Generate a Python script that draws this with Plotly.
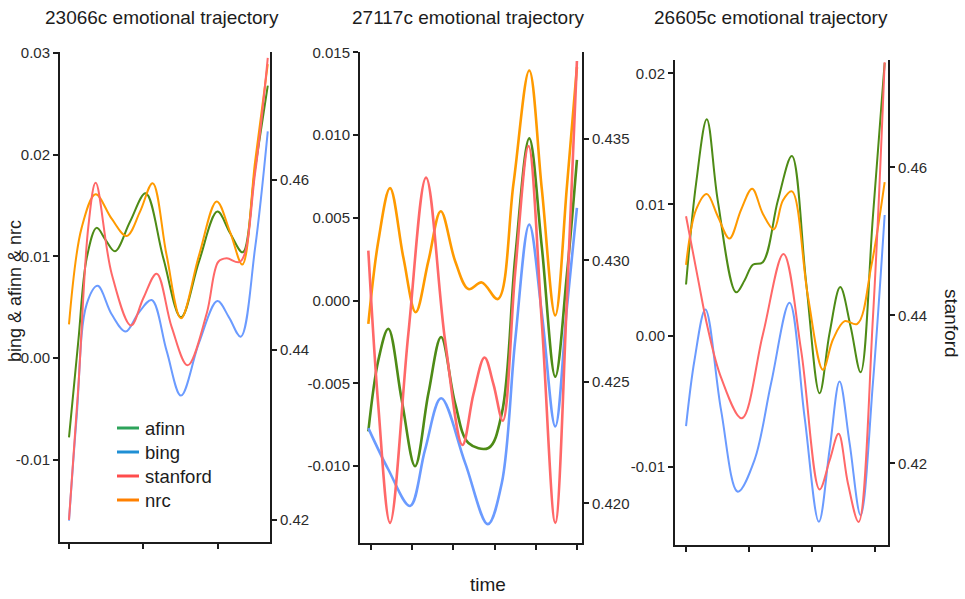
import plotly.graph_objects as go

W, H = 965, 599

# ---- 23066c -------------------------------------------------------------
p1_afinn_t = [0, 0.126, 0.238, 0.372, 0.494, 0.619, 0.821, 1.032, 1.27, 1.507, 1.75, 1.997, 2.167, 2.338, 2.504, 2.675]
p1_afinn = [-0.0078, 0.0017, 0.0098, 0.0128, 0.0116, 0.0105, 0.0134, 0.0162, 0.0098, 0.0040, 0.0095, 0.0144, 0.0123, 0.0104, 0.0186, 0.0268]
p1_bing_t = [0, 0.103, 0.238, 0.386, 0.574, 0.763, 0.933, 1.113, 1.314, 1.507, 1.75, 1.997, 2.153, 2.311, 2.504, 2.675]
p1_bing = [-0.0160, -0.0058, 0.0053, 0.0071, 0.0043, 0.0026, 0.0044, 0.0057, 0.0007, -0.0037, 0.0015, 0.0056, 0.0040, 0.0021, 0.0108, 0.0223]
p1_stanford_t = [0, 0.126, 0.260, 0.359, 0.574, 0.834, 1.0, 1.180, 1.382, 1.597, 1.853, 2.010, 2.122, 2.302, 2.504, 2.675]
p1_stanford = [0.4200, 0.4357, 0.4545, 0.4597, 0.4490, 0.4429, 0.4461, 0.4490, 0.4427, 0.4382, 0.4443, 0.4504, 0.4508, 0.4504, 0.4608, 0.4744]
p1_nrc_t = [0, 0.170, 0.359, 0.574, 0.776, 0.956, 1.126, 1.314, 1.507, 1.75, 1.988, 2.167, 2.333, 2.504, 2.675]
p1_nrc = [0.0033, 0.0128, 0.0161, 0.0137, 0.0120, 0.0144, 0.0172, 0.0101, 0.0039, 0.0101, 0.0154, 0.0124, 0.0092, 0.0193, 0.0289]

# ---- 27117c -------------------------------------------------------------
p2_afinn_t = [-0.065, 0.178, 0.421, 0.746, 1.070, 1.394, 1.702, 2.042, 2.366, 2.853, 3.177, 3.501, 3.842, 4.149, 4.474, 4.757, 5.0]
p2_afinn = [-0.0079, -0.0036, -0.0017, -0.0060, -0.0100, -0.0056, -0.0022, -0.0062, -0.0086, -0.0089, -0.0068, 0.0026, 0.0098, 0.0032, -0.0046, 0.0016, 0.0085]
p2_bing_t = [-0.065, 0.421, 0.948, 1.313, 1.702, 2.285, 2.837, 3.177, 3.501, 3.842, 4.149, 4.474, 4.757, 5.0]
p2_bing = [-0.0077, -0.0102, -0.0124, -0.0090, -0.0059, -0.0098, -0.0135, -0.0110, -0.0024, 0.0046, -0.0008, -0.0076, -0.0004, 0.0056]
p2_stanford_t = [-0.065, 0.178, 0.462, 0.908, 1.337, 1.799, 2.221, 2.488, 2.756, 2.974, 3.201, 3.501, 3.825, 4.149, 4.474, 4.757, 5.0]
p2_stanford = [0.4304, 0.4240, 0.4192, 0.4270, 0.4334, 0.4267, 0.4224, 0.4245, 0.4260, 0.4249, 0.4234, 0.4295, 0.4347, 0.4274, 0.4192, 0.4284, 0.4382]
p2_nrc_t = [-0.065, 0.178, 0.462, 0.786, 1.086, 1.394, 1.694, 2.042, 2.366, 2.691, 3.080, 3.461, 3.842, 4.149, 4.474, 4.757, 5.0]
p2_nrc = [-0.0014, 0.0036, 0.0068, 0.0026, -0.0007, 0.0024, 0.0054, 0.0024, 0.0007, 0.0011, 0.0001, 0.0071, 0.0139, 0.0067, -0.0009, 0.0069, 0.0141]

# ---- 26605c -------------------------------------------------------------
p3_afinn_t = [0, 0.159, 0.329, 0.503, 0.794, 0.927, 1.059, 1.217, 1.456, 1.678, 1.905, 2.117, 2.276, 2.445, 2.609, 2.768, 2.963, 3.149]
p3_afinn = [0.0039, 0.0116, 0.0165, 0.0103, 0.0033, 0.0042, 0.0054, 0.0056, 0.0103, 0.0137, 0.0040, -0.0044, 0.0002, 0.0037, 0.0007, -0.0028, 0.0091, 0.0208]
p3_bing_t = [0, 0.133, 0.307, 0.556, 0.821, 1.085, 1.350, 1.641, 1.879, 2.106, 2.276, 2.434, 2.593, 2.768, 2.963, 3.149]
p3_bing = [-0.0069, -0.0019, 0.0020, -0.0057, -0.0119, -0.0095, -0.0036, 0.0025, -0.0062, -0.0142, -0.0087, -0.0035, -0.0082, -0.0137, -0.0036, 0.0092]
p3_stanford_t = [0, 0.186, 0.344, 0.556, 0.884, 1.217, 1.545, 1.826, 2.117, 2.276, 2.419, 2.567, 2.736, 2.963, 3.149]
p3_stanford = [0.4534, 0.4451, 0.4383, 0.4316, 0.4261, 0.4374, 0.4483, 0.4352, 0.4165, 0.4204, 0.4240, 0.4173, 0.4121, 0.4397, 0.4742]
p3_nrc_t = [0, 0.159, 0.329, 0.503, 0.688, 0.873, 1.048, 1.217, 1.392, 1.535, 1.678, 1.932, 2.170, 2.329, 2.514, 2.715, 2.937, 3.149]
p3_nrc = [0.0054, 0.0096, 0.0108, 0.0091, 0.0074, 0.0096, 0.0112, 0.0093, 0.0081, 0.0103, 0.0110, 0.0030, -0.0026, -0.0003, 0.0011, 0.0009, 0.0053, 0.0117]

titles = ["23066c emotional trajectory", "27117c emotional trajectory", "26605c emotional trajectory"]
series_names = ["afinn", "bing", "stanford", "nrc"]

p1_left_ticks = [0.03, 0.02, 0.01, 0.00, -0.01]
p1_left_text = ["0.03", "0.02", "0.01", "0.00", "-0.01"]
p1_right_ticks = [0.46, 0.44, 0.42]
p1_right_text = ["0.46", "0.44", "0.42"]
p2_left_ticks = [0.015, 0.010, 0.005, 0.000, -0.005, -0.010]
p2_left_text = ["0.015", "0.010", "0.005", "0.000", "-0.005", "-0.010"]
p2_right_ticks = [0.435, 0.430, 0.425, 0.420]
p2_right_text = ["0.435", "0.430", "0.425", "0.420"]
p3_left_ticks = [0.02, 0.01, 0.00, -0.01]
p3_left_text = ["0.02", "0.01", "0.00", "-0.01"]
p3_right_ticks = [0.46, 0.44, 0.42]
p3_right_text = ["0.46", "0.44", "0.42"]
p1_time_ticks = [0, 1, 2]
p2_time_ticks = [0, 1, 2, 3, 4, 5]
p3_time_ticks = [0, 1, 2, 3]

# ---- styling ------------------------------------------------------------
FONT = "Liberation Sans, Arial, Helvetica, sans-serif"
INK = "#1c1c1c"
line_colors = {"afinn": "#4e8b16", "bing": "#6b9bff", "stanford": "#ff6868", "nrc": "#ff9a00"}
legend_colors = {"afinn": "#2da35a", "bing": "#1f8fd4", "stanford": "#ff4c4c", "nrc": "#ff8000"}


def px_x(p):
    return p / W


def px_y(p):
    return 1 - p / H


panels = [
    dict(data={"afinn": (p1_afinn_t, p1_afinn), "bing": (p1_bing_t, p1_bing),
               "stanford": (p1_stanford_t, p1_stanford), "nrc": (p1_nrc_t, p1_nrc)},
         xpx=(60, 270), ypx=(52, 542), xr=[-0.121, 2.705], yl=[-0.0181, 0.0301], yr=[0.4174, 0.4751],
         lt=(p1_left_ticks, p1_left_text), rt=(p1_right_ticks, p1_right_text), xt=p1_time_ticks,
         lw=2.0, title_x=162),
    dict(data={"afinn": (p2_afinn_t, p2_afinn), "bing": (p2_bing_t, p2_bing),
               "stanford": (p2_stanford_t, p2_stanford), "nrc": (p2_nrc_t, p2_nrc)},
         xpx=(360, 582), ypx=(52, 543), xr=[-0.267, 5.123], yl=[-0.01464, 0.01502], yr=[0.41837, 0.43857],
         lt=(p2_left_ticks, p2_left_text), rt=(p2_right_ticks, p2_right_text), xt=p2_time_ticks,
         lw=2.6, title_x=468),
    dict(data={"afinn": (p3_afinn_t, p3_afinn), "bing": (p3_bing_t, p3_bing),
               "stanford": (p3_stanford_t, p3_stanford), "nrc": (p3_nrc_t, p3_nrc)},
         xpx=(675, 888), ypx=(60, 545), xr=[-0.175, 3.202], yl=[-0.01597, 0.02102], yr=[0.40899, 0.4745],
         lt=(p3_left_ticks, p3_left_text), rt=(p3_right_ticks, p3_right_text), xt=p3_time_ticks,
         lw=2.0, title_x=771),
]

axis_common = dict(showline=True, linecolor=INK, linewidth=2, ticks="outside", ticklen=5,
                   tickwidth=2, tickcolor=INK, showgrid=False, zeroline=False,
                   tickfont=dict(family=FONT, size=15, color="#2b2b2b"))

fig = go.Figure()
layout = {}
draw_order = ["afinn", "bing", "nrc", "stanford"]

for i, p in enumerate(panels):
    xa = "x" if i == 0 else f"x{i + 1}"
    yl_name = "y" if i == 0 else f"y{2 * i + 1}"
    yr_name = f"y{2 * i + 2}"
    for name in draw_order:
        t, v = p["data"][name]
        fig.add_trace(go.Scatter(
            x=t, y=v, mode="lines", name=name, showlegend=False,
            line=dict(color=line_colors[name], width=p["lw"], shape="spline", smoothing=1.0),
            xaxis=xa, yaxis=yr_name if name == "stanford" else yl_name,
            hoverinfo="skip"))

    xkey = "xaxis" if i == 0 else f"xaxis{i + 1}"
    ylkey = "yaxis" if i == 0 else f"yaxis{2 * i + 1}"
    yrkey = f"yaxis{2 * i + 2}"
    layout[xkey] = dict(axis_common, domain=[px_x(p["xpx"][0]), px_x(p["xpx"][1])],
                        range=p["xr"], anchor=yl_name, tickvals=p["xt"], showticklabels=False)
    layout[ylkey] = dict(axis_common, domain=[px_y(p["ypx"][1]), px_y(p["ypx"][0])],
                         range=p["yl"], anchor=xa, tickvals=p["lt"][0], ticktext=p["lt"][1])
    layout[yrkey] = dict(axis_common, range=p["yr"], anchor=xa, overlaying=yl_name, side="right",
                         tickvals=p["rt"][0], ticktext=p["rt"][1])

annotations = []
shapes = []
for i, p in enumerate(panels):
    annotations.append(dict(text=titles[i], x=px_x(p["title_x"]), y=px_y(17), xref="paper", yref="paper",
                            showarrow=False, xanchor="center", yanchor="middle",
                            font=dict(family=FONT, size=19, color=INK)))
annotations.append(dict(text="bing & afinn & nrc", x=px_x(15), y=px_y(291), xref="paper", yref="paper",
                        showarrow=False, textangle=-90, xanchor="center", yanchor="middle",
                        font=dict(family=FONT, size=18, color=INK)))
annotations.append(dict(text="stanford", x=px_x(952), y=px_y(323), xref="paper", yref="paper",
                        showarrow=False, textangle=90, xanchor="center", yanchor="middle",
                        font=dict(family=FONT, size=19, color=INK)))
annotations.append(dict(text="time", x=px_x(488), y=px_y(584), xref="paper", yref="paper",
                        showarrow=False, xanchor="center", yanchor="middle",
                        font=dict(family=FONT, size=19, color=INK)))

# key for the four sentiment series, inside the first panel
for k, name in enumerate(series_names):
    yk = 428 + 24 * k
    shapes.append(dict(type="line", xref="paper", yref="paper",
                       x0=px_x(117), x1=px_x(139), y0=px_y(yk), y1=px_y(yk),
                       line=dict(color=legend_colors[name], width=3)))
    annotations.append(dict(text=name, x=px_x(143), y=px_y(yk), xref="paper", yref="paper",
                            showarrow=False, xanchor="left", yanchor="middle",
                            font=dict(family=FONT, size=18.5, color=INK)))

fig.update_layout(
    width=W, height=H, autosize=False,
    margin=dict(l=0, r=0, t=0, b=0),
    template="none",
    paper_bgcolor="white", plot_bgcolor="white",
    font=dict(family=FONT, color=INK),
    showlegend=False,
    annotations=annotations,
    shapes=shapes,
    **layout,
)

fig.write_html("out.html")
